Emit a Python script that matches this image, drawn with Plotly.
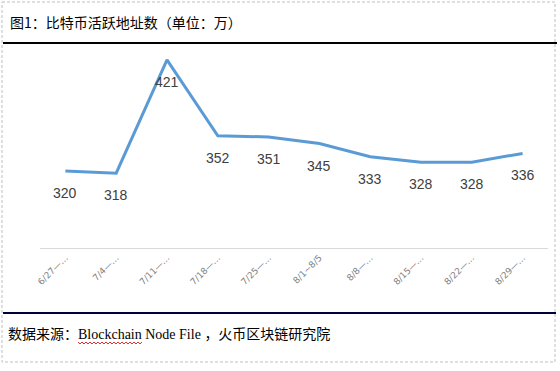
import plotly.graph_objects as go

categories = ["6/27—…", "7/4—…", "7/11—…", "7/18—…", "7/25—…",
              "8/1~8/5", "8/8—…", "8/15—…", "8/22—…", "8/29—…"]
values = [320, 318, 421, 352, 351, 345, 333, 328, 328, 336]
title_text = "图1：比特币活跃地址数（单位：万）"
source_cn = "数据来源："
source_en = "Blockchain Node File"
source_tail = "，火币区块链研究院"

W, H = 560, 371
L, R, T, B = 40, 12, 50, 123
PW, PH = W - L - R, H - T - B


def px(x):
    return (x - L) / PW


def py(y):
    return (H - B - y) / PH


fig = go.Figure()
fig.add_trace(go.Scatter(
    x=categories, y=values, mode="lines",
    line=dict(color="#5B9BD5", width=3),
    hoverinfo="skip", showlegend=False,
))

annotations = []
for c, v in zip(categories, values):
    annotations.append(dict(
        x=c, y=v, xref="x", yref="y", text=str(v), showarrow=False,
        yshift=-22, font=dict(family="Liberation Sans, DejaVu Sans", size=14, color="#404040"),
    ))

annotations.append(dict(
    x=px(8), y=py(22), xref="paper", yref="paper", xanchor="left", yanchor="middle",
    text=title_text, showarrow=False,
    font=dict(family="Noto Sans CJK SC", size=14, color="#000000"),
))
annotations.append(dict(
    x=px(6), y=py(333), xref="paper", yref="paper", xanchor="left", yanchor="middle",
    text=(source_cn + "<span style='font-family:Liberation Serif'>" + source_en
          + " </span>" + source_tail),
    showarrow=False,
    font=dict(family="Noto Sans CJK SC", size=14, color="#000000"),
))

# red spell-check squiggle under "Blockchain"
zig = []
x0, x1, yb = 78, 142, 342
i = 0
xx = x0
while xx <= x1:
    zig.append((px(xx), py(yb + (0 if i % 2 == 0 else 2))))
    xx += 2
    i += 1
path = "M " + " L ".join(f"{a:.5f},{b:.5f}" for a, b in zig)

shapes = [
    dict(type="rect", xref="paper", yref="paper",
         x0=px(2), x1=px(555), y0=py(2), y1=py(362),
         line=dict(color="#BFBFBF", width=1, dash="3px,2px"), layer="below"),
    dict(type="line", xref="paper", yref="paper",
         x0=px(3), x1=px(557), y0=py(43), y1=py(43),
         line=dict(color="#000000", width=2)),
    dict(type="line", xref="paper", yref="paper",
         x0=px(3), x1=px(556), y0=py(313), y1=py(313),
         line=dict(color="#000040", width=2)),
    dict(type="path", xref="paper", yref="paper", path=path,
         line=dict(color="#E03030", width=1)),
]

fig.update_layout(
    width=W, height=H,
    margin=dict(l=L, r=R, t=T, b=B, autoexpand=False),
    paper_bgcolor="white", plot_bgcolor="white",
    annotations=annotations, shapes=shapes,
    xaxis=dict(
        type="category", range=[-0.5, 9.5], showgrid=False, zeroline=False,
        showline=True, linecolor="#D9D9D9", linewidth=1, ticks="",
        tickangle=-45, tickfont=dict(family="DejaVu Sans", size=9, color="#7F7F7F"),
        fixedrange=True, automargin=False,
    ),
    yaxis=dict(
        range=[250, 430], showgrid=False, zeroline=False, showline=False,
        showticklabels=False, ticks="", fixedrange=True, automargin=False,
    ),
)

fig.write_html(
    "out.html",
    config={"displayModeBar": False},
    post_script="document.body.style.margin='0';document.body.style.overflow='hidden';",
)
